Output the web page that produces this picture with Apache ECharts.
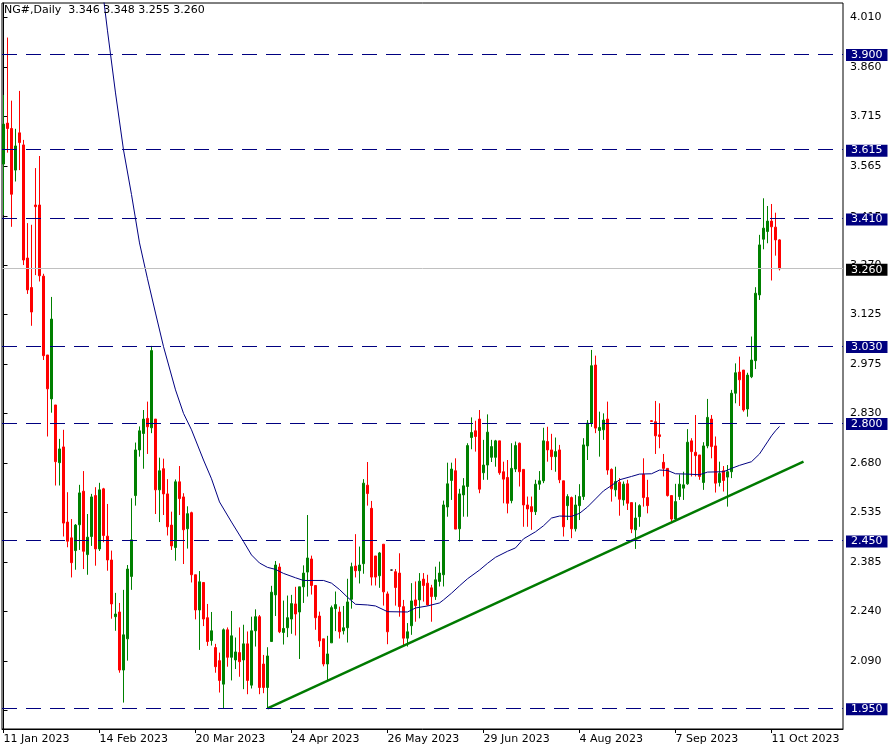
<!DOCTYPE html>
<html>
<head>
<meta charset="utf-8">
<script src="https://cdn.jsdelivr.net/npm/echarts@6.0.0/dist/echarts.min.js"></script>
<style>
html,body{margin:0;padding:0;background:#ffffff;}
#chart{width:893px;height:753px;}
</style>
</head>
<body>
<div id="chart"></div>
<script>
// ---------------- data ----------------
const headerText = 'NG#,Daily  3.346 3.348 3.255 3.260';

// x tick labels, placed at these bar numbers
const dateLabels = ['11 Jan 2023','14 Feb 2023','20 Mar 2023','24 Apr 2023','26 May 2023','29 Jun 2023','4 Aug 2023','7 Sep 2023','11 Oct 2023'];
const dateLabelBars = [0,24,48,72,96,120,144,168,192];

// y tick labels
const yTickValues = [4.010,3.860,3.715,3.565,3.415,3.270,3.125,2.975,2.830,2.680,2.535,2.385,2.240,2.090,1.945];

const opens = [
3.572,3.694,3.678,3.554,3.665,3.629,3.292,3.204,3.450,3.450,
3.238,3.003,2.872,2.854,2.682,2.729,2.505,2.458,2.420,2.497,
2.597,2.408,2.462,2.584,2.425,2.604,2.463,2.392,2.223,2.237,
2.064,2.157,2.343,2.584,2.720,2.769,2.814,2.786,2.812,2.601,
2.664,2.589,2.496,2.429,2.625,2.580,2.485,2.533,2.348,2.243,
2.325,2.220,2.152,2.131,2.092,2.022,2.184,2.102,2.094,2.116,
2.094,2.142,2.019,2.181,2.223,2.082,2.012,2.149,2.288,2.371,
2.176,2.190,2.216,2.261,2.237,2.312,2.356,2.395,2.316,2.225,
2.157,2.082,2.145,2.247,2.237,2.181,2.190,2.275,2.374,2.360,
2.381,2.615,2.546,2.404,2.345,2.439,2.291,2.362,2.357,2.353,
2.253,2.159,2.196,2.273,2.273,2.335,2.323,2.309,2.283,2.328,
2.348,2.550,2.629,2.658,2.485,2.586,2.611,2.757,2.777,2.812,
2.652,2.675,2.698,2.698,2.747,2.655,2.638,2.569,2.663,2.740,
2.662,2.556,2.551,2.536,2.618,2.628,2.745,2.720,2.700,2.720,
2.628,2.554,2.578,2.485,2.554,2.581,2.732,2.800,2.973,2.778,
2.780,2.812,2.662,2.601,2.624,2.571,2.619,2.563,2.482,2.521,
2.647,2.578,2.807,2.804,2.765,2.683,2.665,2.584,2.514,2.581,
2.606,2.619,2.747,2.713,2.705,2.623,2.732,2.812,2.732,2.623,
2.658,2.639,2.655,2.889,2.952,2.958,2.842,2.938,2.986,3.182,
3.348,3.371,3.402,3.384,3.346];

const highs = [
3.778,3.949,3.761,3.677,3.790,3.644,3.396,3.391,3.560,3.596,
3.245,3.003,3.176,2.854,2.753,2.780,2.594,2.514,2.499,2.616,
2.657,2.529,2.589,2.609,2.622,2.607,2.559,2.420,2.294,2.264,
2.303,2.377,2.576,2.742,2.790,2.839,2.864,3.030,2.812,2.697,
2.694,2.633,2.536,2.632,2.672,2.591,2.552,2.536,2.348,2.359,
2.325,2.261,2.237,2.142,2.116,2.188,2.191,2.240,2.161,2.191,
2.199,2.179,2.223,2.245,2.228,2.109,2.132,2.315,2.389,2.382,
2.271,2.286,2.288,2.312,2.312,2.376,2.526,2.405,2.316,2.238,
2.157,2.166,2.256,2.298,2.253,2.255,2.336,2.384,2.469,2.432,
2.633,2.684,2.568,2.404,2.416,2.439,2.298,2.362,2.365,2.412,
2.273,2.204,2.323,2.328,2.353,2.353,2.348,2.318,2.372,2.387,
2.569,2.682,2.682,2.695,2.604,2.636,2.740,2.817,2.807,2.839,
2.750,2.826,2.750,2.750,2.747,2.685,2.690,2.740,2.745,2.742,
2.662,2.581,2.581,2.631,2.657,2.786,2.789,2.768,2.757,2.735,
2.628,2.588,2.581,2.586,2.618,2.755,2.809,3.018,3.001,2.834,
2.829,2.864,2.665,2.670,2.636,2.626,2.631,2.563,2.564,2.558,
2.695,2.631,2.808,2.866,2.859,2.708,2.665,2.584,2.619,2.647,
2.655,2.782,2.755,2.824,2.705,2.743,2.872,2.824,2.760,2.685,
2.672,2.675,2.899,2.978,2.998,2.958,2.950,3.058,3.205,3.361,
3.470,3.447,3.453,3.427,3.348];

const lows = [
3.420,3.606,3.385,3.520,3.554,3.271,3.185,3.090,3.241,3.222,
2.988,2.760,2.831,2.614,2.614,2.462,2.430,2.340,2.363,2.422,
2.365,2.348,2.434,2.375,2.419,2.445,2.360,2.217,2.181,2.056,
1.967,2.092,2.303,2.554,2.700,2.664,2.708,2.770,2.529,2.505,
2.526,2.465,2.422,2.390,2.526,2.380,2.426,2.325,2.215,2.124,
2.195,2.136,2.137,2.056,1.997,1.948,2.074,2.033,2.067,2.044,
2.007,1.992,2.009,2.134,1.992,1.995,1.950,2.149,2.225,2.174,
2.140,2.162,2.172,2.167,2.097,2.264,2.283,2.289,2.184,2.133,
2.075,2.031,2.145,2.180,2.158,2.170,2.146,2.247,2.340,2.322,
2.351,2.554,2.316,2.316,2.309,2.256,2.141,2.362,2.256,2.223,
2.134,2.134,2.169,2.208,2.218,2.268,2.256,2.208,2.273,2.313,
2.313,2.521,2.571,2.484,2.447,2.521,2.521,2.722,2.715,2.591,
2.631,2.631,2.684,2.670,2.646,2.561,2.531,2.561,2.654,2.611,
2.491,2.491,2.482,2.526,2.601,2.621,2.685,2.660,2.655,2.621,
2.462,2.511,2.457,2.477,2.511,2.571,2.690,2.789,2.770,2.700,
2.750,2.646,2.566,2.581,2.524,2.554,2.541,2.472,2.425,2.491,
2.551,2.531,2.804,2.708,2.725,2.641,2.581,2.502,2.507,2.571,
2.571,2.616,2.641,2.641,2.631,2.601,2.725,2.695,2.593,2.611,
2.596,2.551,2.636,2.859,2.851,2.834,2.819,2.934,2.961,3.167,
3.318,3.336,3.225,3.299,3.255];

const closes = [
3.691,3.678,3.482,3.626,3.636,3.286,3.197,3.131,3.445,3.239,
3.001,2.902,3.110,2.685,2.723,2.502,2.448,2.384,2.496,2.592,
2.418,2.460,2.580,2.425,2.601,2.465,2.392,2.261,2.231,2.064,
2.169,2.365,2.452,2.720,2.777,2.812,2.789,3.016,2.601,2.658,
2.589,2.491,2.434,2.625,2.575,2.482,2.530,2.348,2.243,2.327,
2.216,2.149,2.181,2.074,2.033,2.184,2.102,2.166,2.118,2.089,
2.142,2.033,2.181,2.223,2.012,2.012,2.106,2.296,2.377,2.178,
2.188,2.220,2.262,2.231,2.312,2.353,2.398,2.316,2.220,2.151,
2.082,2.112,2.250,2.259,2.178,2.190,2.267,2.372,2.360,2.377,
2.621,2.590,2.341,2.341,2.413,2.297,2.178,2.362,2.310,2.253,
2.159,2.178,2.270,2.256,2.329,2.316,2.258,2.283,2.333,2.353,
2.556,2.619,2.663,2.484,2.589,2.613,2.733,2.772,2.760,2.603,
2.675,2.773,2.730,2.747,2.652,2.633,2.561,2.665,2.733,2.655,
2.556,2.544,2.536,2.618,2.628,2.747,2.720,2.700,2.715,2.631,
2.491,2.581,2.485,2.556,2.581,2.735,2.800,2.971,2.785,2.787,
2.809,2.660,2.604,2.626,2.573,2.618,2.561,2.484,2.517,2.554,
2.578,2.554,2.805,2.762,2.760,2.665,2.584,2.514,2.566,2.618,
2.616,2.743,2.715,2.703,2.641,2.732,2.817,2.730,2.621,2.650,
2.629,2.655,2.889,2.950,2.929,2.839,2.943,2.988,3.187,3.331,
3.381,3.402,3.385,3.346,3.260];

// moving average, read at these bars
const maBars = [24,26,28,30,32,34,36,38,40,43,45,47,50,52,54,57,60,62,64,66,68,70,73,75,80,82,84,86,88,91,93,96,101,103,106,109,110,112,114,116,119,121,123,126,128,130,133,135,137,139,142,144,146,148,150,152,154,157,159,162,164,166,168,171,174,176,180,182,184,187,189,190,191,192,193,194];
const maValues = [4.165,3.969,3.784,3.614,3.481,3.337,3.230,3.128,3.028,2.899,2.829,2.780,2.690,2.634,2.565,2.505,2.447,2.407,2.383,2.370,2.364,2.352,2.339,2.331,2.331,2.323,2.304,2.281,2.260,2.258,2.255,2.238,2.237,2.249,2.255,2.264,2.273,2.293,2.315,2.336,2.362,2.382,2.400,2.418,2.428,2.455,2.476,2.494,2.517,2.523,2.522,2.531,2.550,2.574,2.598,2.614,2.631,2.641,2.648,2.649,2.660,2.659,2.649,2.648,2.646,2.654,2.655,2.665,2.674,2.685,2.708,2.726,2.744,2.762,2.777,2.790];

// green trend line end points
const trendBars = [66, 200];
const trendValues = [1.950, 2.685];

// horizontal levels
const levelValues = [3.900, 3.615, 3.410, 3.030, 2.800, 2.450, 1.950];
const lastPrice = 3.260;

// ---------------- chart ----------------
const FONT = 'DejaVu Sans';
const candleData = opens.map((o, i) => [i, o, closes[i], lows[i], highs[i]]);
const maData = maBars.map((b, i) => [b, maValues[i]]);
const trendData = trendBars.map((b, i) => [b, trendValues[i]]);

const boxLabel = (bg) => ({
  show: true,
  position: 'end',
  distance: 3,
  offset: [0, 1],
  backgroundColor: bg,
  color: '#ffffff',
  fontFamily: FONT,
  fontSize: 11,
  lineHeight: 11,
  padding: [1, 5, 0, 5],
  formatter: (p) => Number(p.value).toFixed(3)
});

const markData = levelValues.map(v => ({
  yAxis: v,
  lineStyle: { color: '#000080', type: [15, 9], width: 1 },
  label: boxLabel('#000080')
}));
markData.push({
  yAxis: lastPrice,
  lineStyle: { color: '#c0c0c0', type: 'solid', width: 1 },
  label: boxLabel('#000000')
});

const chart = echarts.init(document.getElementById('chart'), null, { renderer: 'canvas' });
chart.setOption({
  animation: false,
  backgroundColor: '#ffffff',
  title: {
    text: headerText,
    left: 4,
    top: 5,
    padding: 0,
    textStyle: { fontFamily: FONT, fontSize: 11, fontWeight: 'normal', color: '#000000' }
  },
  grid: {
    left: 2, right: 50, top: 3, bottom: 24,
    show: true, borderColor: '#000000', borderWidth: 1, backgroundColor: '#ffffff'
  },
  xAxis: {
    type: 'value',
    min: -0.375,
    max: 209.875,
    axisLine: { show: true, lineStyle: { color: '#000000', width: 1 } },
    axisTick: { show: true, length: 4, lineStyle: { color: '#000000' }, customValues: dateLabelBars },
    axisLabel: {
      customValues: dateLabelBars,
      align: 'left',
      margin: 5,
      color: '#000000',
      fontFamily: FONT,
      fontSize: 11,
      formatter: (v) => {
        const k = dateLabelBars.indexOf(Math.round(v));
        return k >= 0 ? dateLabels[k] : '';
      }
    },
    splitLine: { show: false }
  },
  yAxis: {
    type: 'value',
    position: 'right',
    min: 1.8883,
    max: 4.0520,
    axisLine: { show: true, lineStyle: { color: '#000000', width: 1 } },
    axisTick: { show: true, length: 4, lineStyle: { color: '#000000' }, customValues: yTickValues },
    axisLabel: {
      customValues: yTickValues,
      margin: 7,
      color: '#000000',
      fontFamily: FONT,
      fontSize: 11,
      formatter: (v) => Number(v).toFixed(3)
    },
    splitLine: { show: false }
  },
  series: [
    {
      type: 'line',
      name: 'levels',
      data: [],
      clip: false,
      silent: true,
      z: 1,
      markLine: {
        silent: true,
        symbol: ['none', 'none'],
        animation: false,
        precision: 3,
        data: markData
      }
    },
    {
      type: 'line',
      name: 'MA',
      data: maData,
      showSymbol: false,
      symbol: 'none',
      lineStyle: { color: '#000080', width: 1 },
      z: 3
    },
    {
      type: 'candlestick',
      name: 'NG',
      data: candleData,
      barWidth: 2,
      z: 2,
      itemStyle: {
        color: '#008000',
        color0: '#ff0000',
        borderColor: '#008000',
        borderColor0: '#ff0000',
        borderColorDoji: '#000000',
        borderWidth: 1
      }
    },
    {
      type: 'line',
      name: 'trend',
      data: trendData,
      symbol: 'none',
      lineStyle: { color: '#007a00', width: 2.5 },
      z: 4
    }
  ]
});
</script>
</body>
</html>
